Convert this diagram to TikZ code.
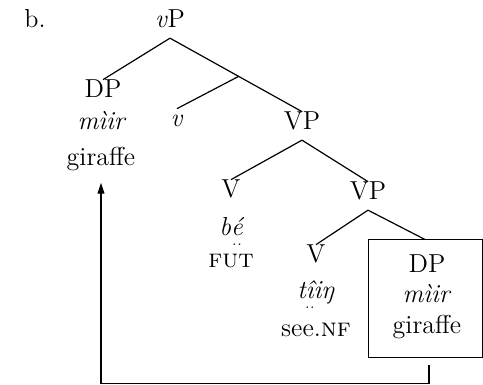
\documentclass[tikz,border=0pt]{standalone}
\usetikzlibrary{arrows.meta}
% diaeresis below a letter
\newcommand{\udots}[1]{\ooalign{#1\cr\hidewidth\smash{\raisebox{-0.85ex}{\fontsize{7}{7}\selectfont..}}\hidewidth\cr}}
\begin{document}
\begin{tikzpicture}[
    x=0.5pt, y=-0.5pt,
    every node/.style={font=\fontsize{13}{15}\selectfont},
    cat/.style={inner sep=2.3pt, text height=1.55ex, text depth=0.6ex, anchor=base},
    gloss/.style={inner sep=2pt, anchor=base},
    branch/.style={line width=0.6pt},
    move/.style={line width=0.55pt, shorten >=3.5pt, -{Triangle[length=5.5pt,width=3.5pt]}}
]
    \useasboundingbox (0,0) rectangle (483,385);

    \node[gloss] (ex) at (35,28) {b.};

    % vP layer
    \node[cat] (vp) at (170,28) {\textit{v}P};
    \node[cat] (dpA) at (103,98) {DP};
    \node[gloss] (mirA) at (102,130) {\textit{mìir}};
    \node[gloss] (girA) at (101,166) {giraffe};
    \node[cat] (v) at (177,127) {\textit{v}};
    \node[cat] (vpA) at (302,130) {VP};

    % higher VP
    \node[cat] (vA) at (231,198) {V};
    \node[gloss] (be) at (231,236) {\textit{b\udots{é}}};
    \node[gloss] (fut) at (231,268) {\textsc{fut}};
    \node[cat] (vpB) at (368,200) {VP};

    % lower VP
    \node[cat] (vB) at (316,263) {V};
    \node[gloss] (tiin) at (316,299) {\textit{t\udots{î}iŋ}};
    \node[gloss] (see) at (316,336) {see.\textsc{nf}};

    % boxed copy of the object
    \node[draw, line width=0.5pt, minimum width=57pt, minimum height=59pt, inner sep=0pt] (copy) at (425,299) {};
    \node[cat] (dpB) at (427,273) {DP};
    \node[gloss] (mirB) at (427,303) {\textit{mìir}};
    \node[gloss] (girB) at (427,334) {giraffe};

    % branches
    \draw[branch] (vp.south) -- (dpA.north);
    \draw[branch] (vp.south) -- coordinate[pos=0.52] (vbar) (vpA.north);
    \draw[branch] (vbar) -- (v.north);
    \draw[branch] (vpA.south) -- (vA.north);
    \draw[branch] (vpA.south) -- (vpB.north);
    \draw[branch] (vpB.south) -- (vB.north);
    \draw[branch] (vpB.south) -- (copy.north);

    % movement arrow
    \draw[move] ([xshift=2pt,yshift=-3.5pt]copy.south) -- ++(0,-9pt) -| (girA);
\end{tikzpicture}
\end{document}
